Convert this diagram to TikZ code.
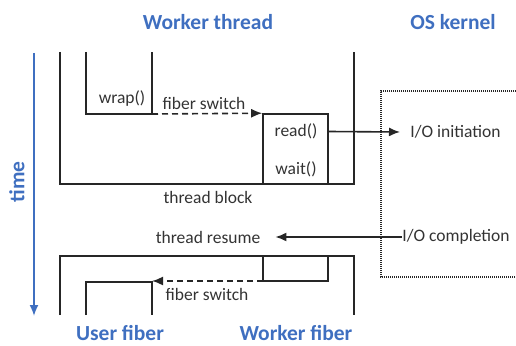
\documentclass[tikz,border=0pt]{standalone}
\usepackage{fontspec}
\setmainfont{Carlito}
\usetikzlibrary{arrows.meta}
\definecolor{ttl}{HTML}{3F6FC0}
\begin{document}
\begin{tikzpicture}[x=1pt,y=-1pt,
  ln/.style={line width=1.6pt,black!85},
  txt/.style={font=\fontsize{17.5}{20}\selectfont,text=black!80,inner sep=0pt},
  ttlstyle/.style={font=\fontsize{21.5}{24}\selectfont\bfseries,text=ttl,inner sep=0pt},
  arr/.style={line width=1.6pt,black!85,-{Latex[length=11pt,width=9pt]}},
  darr/.style={arr,dashed,dash pattern=on 6pt off 4pt}]
\useasboundingbox (0,0) rectangle (516,345);
% titles
\node[ttlstyle] (wt) at (208,22) {Worker thread};
\node[ttlstyle] (os) at (453,22) {OS kernel};
\node[ttlstyle] (uf) at (120,333) {User fiber};
\node[ttlstyle] (wf) at (296,333) {Worker fiber};
% time axis
\coordinate (t0) at (34,53);
\coordinate (t1) at (34,316);
\draw[line width=1.8pt,ttl,-{Latex[length=11pt,width=9pt]}] (t0) -- (t1);
\node[ttlstyle,rotate=90] (time) at (17,182) {time};
% top thread block
\draw[ln] (60,52) -- (60,184) -- (354,184) -- (354,52);
\draw[ln] (86,52) -- (86,114) -- (152,114) -- (152,52);
\coordinate (wrapc) at (152,114);
\node[txt] (wrap) at (122,99) {wrap()};
\node[ln,draw,minimum width=65pt,minimum height=70pt,inner sep=0pt] (rw) at (295.5,149) {};
\node[txt] (read) at (296,131.5) {read()};
\node[txt] (wait) at (296,169) {wait()};
\draw[darr] (wrapc) -- (rw.north west);
\node[txt] (fs1) at (204,103) {fiber switch};
\node[txt] (tb) at (208,197) {thread block};
% OS kernel box
\draw[line width=1.2pt,black!85,dash pattern=on 1pt off 1pt] (520,91) -- (381,91) -- (381,277) -- (520,277);
\node[txt] (ioi) at (455.5,132) {I/O initiation};
\node[txt] (ioc) at (456,237) {I/O completion};
\draw[arr] (rw.east |- read) -- (ioi.west -| 400,0);
\node[txt] (tr) at (208,237) {thread resume};
\draw[arr] (ioc.west) -- ([xshift=15pt]tr.east);
% bottom worker fiber
\draw[ln] (60,315) -- (60,256) -- (354,256) -- (354,315);
\draw[ln] (263,256) -- (263,281) -- (328,281) -- (328,256);
\coordinate (swc) at (263,281);
\draw[ln] (86,315) -- (86,282) -- (152,282) -- (152,315);
\coordinate (ufc) at (152,281);
\draw[darr] (swc) -- (ufc);
\node[txt] (fs2) at (207,294) {fiber switch};
\end{tikzpicture}
\end{document}
